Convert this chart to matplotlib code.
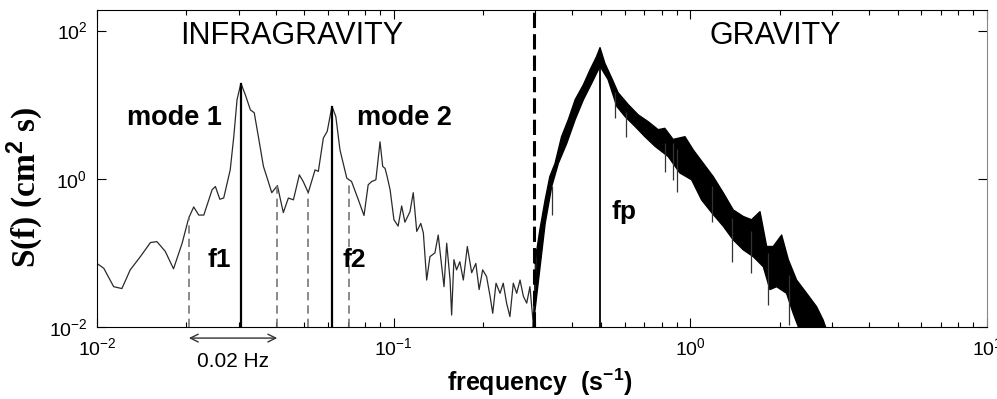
import numpy as np
import matplotlib
matplotlib.use("Agg")
import matplotlib.pyplot as plt

plt.rcParams['font.family'] = ['Liberation Sans', 'DejaVu Sans']
plt.rcParams['mathtext.fontset'] = 'custom'
plt.rcParams['mathtext.rm'] = 'Liberation Sans'
plt.rcParams['mathtext.it'] = 'Liberation Sans:italic'
plt.rcParams['mathtext.bf'] = 'Liberation Sans:bold'
plt.rcParams['axes.unicode_minus'] = False

# infragravity part of the spectrum
ig_f = [0.0100, 0.01054, 0.01138, 0.01213, 0.01294, 0.01400, 0.01514, 0.01592,
        0.01698, 0.01811, 0.01936, 0.02037, 0.02118, 0.02203, 0.02291, 0.02443,
        0.02506, 0.02594, 0.02673, 0.02812, 0.02891, 0.02965, 0.03055, 0.03162,
        0.03289, 0.03388, 0.03499, 0.03639, 0.03733, 0.03882, 0.04055, 0.04246,
        0.04416, 0.04592, 0.04808, 0.04955, 0.05152, 0.05433, 0.05572, 0.05794,
        0.05970, 0.06194, 0.06383, 0.06592, 0.06950, 0.07211, 0.07603, 0.07943,
        0.08204, 0.08433, 0.08710, 0.08995, 0.09183, 0.09354, 0.09506, 0.09727,
        0.1002, 0.1035, 0.1064, 0.1091, 0.1119, 0.1135, 0.1164, 0.1196, 0.1234,
        0.1259, 0.1292, 0.1325, 0.1377, 0.1413, 0.1452, 0.1478, 0.1509, 0.1549,
        0.1568, 0.1596, 0.1629, 0.1671, 0.1717, 0.1771, 0.1832, 0.1892, 0.1941,
        0.1995, 0.2056, 0.2113, 0.2157, 0.2213, 0.2283, 0.2340, 0.2402, 0.2465,
        0.2530, 0.2598, 0.2666, 0.2736, 0.2808, 0.2879, 0.2955, 0.3033]
ig_S = [0.072, 0.062, 0.035, 0.033, 0.059, 0.089, 0.138, 0.142,
        0.105, 0.061, 0.135, 0.295, 0.417, 0.324, 0.324, 0.71,
        0.787, 0.53, 0.55, 1.32, 3.72, 11.7, 19.5, 13.6,
        8.5, 7.8, 3.7, 1.47, 1.07, 0.65, 0.81, 0.35,
        0.55, 0.52, 1.13, 0.92, 0.65, 1.32, 1.26, 3.55,
        4.37, 9.55, 6.9, 2.45, 1.02, 0.92, 0.52, 0.32,
        0.83, 0.92, 0.97, 3.16, 1.47, 1.38, 1.07, 0.71,
        0.28, 0.23, 0.43, 0.26, 0.32, 0.36, 0.65, 0.195, 0.25,
        0.186, 0.043, 0.089, 0.10, 0.174, 0.065, 0.035, 0.135, 0.043,
        0.0145, 0.081, 0.059, 0.076, 0.043, 0.122, 0.054, 0.072, 0.032,
        0.059, 0.048, 0.026, 0.0153, 0.039, 0.0285, 0.039, 0.021, 0.0138,
        0.039, 0.0285, 0.043, 0.026, 0.021, 0.035, 0.011, 0.11]

# gravity band: upper and lower edge of the dense spectrum
up_f = [0.299, 0.311, 0.324, 0.336, 0.350, 0.368, 0.388, 0.409, 0.436, 0.459,
        0.483, 0.496, 0.515, 0.543, 0.571, 0.618, 0.667, 0.721, 0.779, 0.820,
        0.875, 0.959, 1.023, 1.105, 1.194, 1.290, 1.395, 1.508, 1.608, 1.717,
        1.808, 1.903, 2.031, 2.139, 2.281, 2.465, 2.663, 2.803, 2.884]
up_S = [0.072, 0.204, 0.52, 1.07, 1.62, 3.7, 6.3, 11.7, 18.6, 29.5,
        44.7, 58.9, 36.3, 22.9, 14.5, 10.0, 7.3, 5.9, 4.6, 4.8,
        3.4, 3.7, 2.45, 1.62, 1.07, 0.65, 0.38, 0.31, 0.28, 0.36,
        0.122, 0.122, 0.174, 0.081, 0.043, 0.0285, 0.0188, 0.0124, 0.0089]
lo_f = [0.294, 0.324, 0.341, 0.359, 0.383, 0.409, 0.436, 0.465, 0.496, 0.528,
        0.565, 0.603, 0.651, 0.703, 0.760, 0.842, 0.922, 1.010, 1.091, 1.180,
        1.290, 1.395, 1.508, 1.630, 1.762, 1.855, 1.953, 2.110, 2.222, 2.339]
lo_S = [0.009, 0.25, 0.79, 1.62, 3.0, 6.3, 11.7, 19.5, 33.0, 21.9,
        9.5, 6.9, 5.1, 3.7, 2.75, 2.0, 1.2, 0.97, 0.52, 0.35,
        0.23, 0.15, 0.11, 0.089, 0.065, 0.032, 0.035, 0.0285, 0.0153, 0.0089]

# downward spikes sticking out of the band
spike_f = [0.341, 0.556, 0.608, 0.820, 0.875, 0.900, 1.180, 1.380, 1.600, 1.820, 2.150]
spike_hi = [0.8, 15.0, 8.0, 3.0, 3.0, 2.5, 0.8, 0.3, 0.2, 0.1, 0.05]
spike_lo = [0.32, 6.6, 3.7, 1.24, 0.97, 0.67, 0.26, 0.076, 0.054, 0.02, 0.0107]

# mode frequencies and bandwidth limits
mode_f = [0.0306, 0.0619]
mode_S = [19.5, 9.55]
band_f = [0.0204, 0.0405, 0.0515, 0.0708]
band_S = [0.30, 0.81, 0.65, 0.97]
fp_f = 0.496
fp_S = 58.9
split_f = 0.297

fig = plt.figure(figsize=(9.97, 3.99), dpi=100)
ax = fig.add_axes([0.0973, 0.1805, 0.8927, 0.7945])
ax.set_xscale('log')
ax.set_yscale('log')
ax.set_xlim(1e-2, 1e1)
ax.set_ylim(1e-2, 190)

lc = '#2a2a2a'
ax.plot(ig_f, ig_S, color=lc, lw=0.9)
poly_f = up_f + lo_f[::-1]
poly_S = up_S + lo_S[::-1]
ax.fill(poly_f, poly_S, color='black', lw=0)
ax.plot(up_f, up_S, color='black', lw=1.0)
ax.plot(lo_f, lo_S, color='black', lw=1.0)
ax.vlines(spike_f, spike_lo, spike_hi, color='#333333', lw=0.9)

ymin = ax.get_ylim()[0]
ax.vlines(mode_f, ymin, mode_S, color='black', lw=1.6)
ax.vlines(band_f, ymin, band_S, color='#777777', lw=1.2, linestyles=(0, (5, 3)))
ax.vlines([fp_f], ymin, [fp_S], color='black', lw=1.3)
ax.axvline(split_f, color='black', lw=2.2, ls=(0, (5, 2)))

# labels
ax.text(0.0454, 85, 'INFRAGRAVITY', fontsize=22, ha='center', va='center')
ax.text(1.93, 85, 'GRAVITY', fontsize=22, ha='center', va='center')
ax.text(0.0182, 6.7, 'mode 1', fontsize=19.5, fontweight='bold', ha='center', va='center')
ax.text(0.1084, 6.7, 'mode 2', fontsize=19.5, fontweight='bold', ha='center', va='center')
ax.text(0.0258, 0.080, 'f1', fontsize=19, fontweight='bold', ha='center', va='center')
ax.text(0.0734, 0.080, 'f2', fontsize=19, fontweight='bold', ha='center', va='center')
ax.text(0.597, 0.358, 'fp', fontsize=19, fontweight='bold', ha='center', va='center')

# bandwidth arrow below the axis
ax.annotate('', xy=(band_f[0], -0.035), xytext=(band_f[1], -0.035),
            xycoords=('data', 'axes fraction'), textcoords=('data', 'axes fraction'),
            arrowprops=dict(arrowstyle='<->', color='#333333', lw=1.0,
                            mutation_scale=14, shrinkA=0, shrinkB=0),
            annotation_clip=False)
ax.text(0.0287, -0.11, '0.02 Hz', fontsize=15, ha='center', va='center',
        transform=ax.get_xaxis_transform())

ax.set_xlabel('frequency  (s$^{\\mathbf{-1}}$)', fontsize=18, fontweight='bold')
ax.xaxis.set_label_coords(0.498, -0.125)
ax.set_ylabel('S(f) (cm$^{\\mathbf{2}}$ s)', fontsize=24, fontweight='bold',
              family='Liberation Serif')
ax.yaxis.set_label_coords(-0.058, 0.44)

ax.set_yticks([1e-2, 1e0, 1e2])
ax.yaxis.set_minor_locator(matplotlib.ticker.NullLocator())
ax.tick_params(which='both', direction='in', top=True, right=True, labelsize=14, width=0.8)
ax.tick_params(which='major', length=6.5, pad=7)
ax.tick_params(which='minor', length=3.6)
ax.spines['right'].set_color('#888888')

fig.savefig('out.png', dpi=100)
